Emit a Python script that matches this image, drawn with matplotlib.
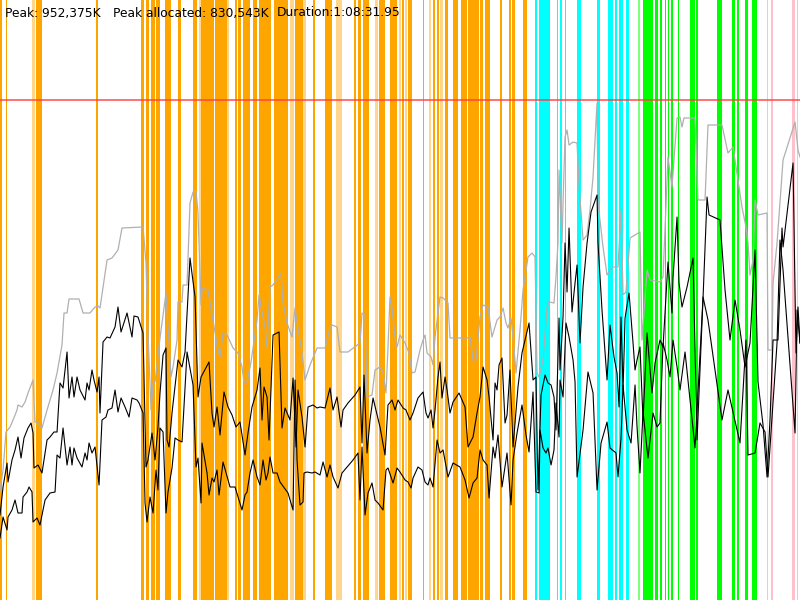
import matplotlib
matplotlib.use("Agg")
import matplotlib.pyplot as plt
import numpy as np

# ---- summary values ----
PEAK_K = 952375
PEAK_ALLOC_K = 830543
DURATION_S = 1 * 3600 + 8 * 60 + 31.95
title_parts = ["Peak: 952,375K", "Peak allocated: 830,543K", "Duration:1:08:31.95"]

# ---- series: time in % of run duration, memory in % of peak ----
gray_t = [0, 0.38, 0.75, 1.25, 1.63, 2.13, 2.25, 2.75, 3.13, 3.5, 4.13, 4.38, 4.75, 5.25, 5.88, 6.63, 7.13, 7.75, 8.0, 8.38,
          8.63, 9.88, 10.38, 11.25, 11.88, 12.25, 12.5, 13.38, 14.0, 14.75, 15.25, 17.88, 18.25, 18.5, 18.88, 19.13, 19.38, 20.0, 20.75, 21.38,
          21.63, 22.13, 22.25, 22.75, 22.88, 23.38, 23.75, 24.13, 24.5, 24.75, 25.13, 25.25, 26.0, 26.38, 26.63, 27.13, 27.5, 27.88, 28.38, 29.13,
          29.75, 30.25, 30.5, 30.88, 31.38, 32.13, 32.38, 32.75, 33.13, 33.38, 33.75, 34.13, 35.13, 35.38, 35.88, 36.5, 36.88, 37.13, 37.75, 38.13,
          38.75, 39.63, 40.63, 41.25, 41.5, 42.13, 42.5, 43.5, 45.0, 45.25, 45.63, 45.88, 46.5, 46.88, 47.5, 47.88, 48.25, 48.5, 48.75, 49.0,
          49.38, 49.63, 50.0, 50.63, 51.13, 51.5, 51.88, 52.5, 52.88, 53.13, 53.38, 53.88, 54.13, 54.38, 55.0, 55.38, 56.0, 56.25, 58.38, 58.75,
          59.13, 59.5, 60.0, 60.38, 61.0, 61.5, 62.13, 62.5, 62.88, 63.25, 63.5, 63.88, 64.13, 64.5, 65.0, 65.38, 66.0, 66.5, 66.88, 67.13,
          67.38, 67.88, 68.38, 68.63, 69.25, 69.5, 69.75, 69.88, 70.25, 70.38, 70.63, 70.88, 71.13, 71.63, 72.13, 72.38, 72.88, 73.38, 73.75, 74.13,
          74.63, 74.75, 75.38, 75.88, 76.25, 76.63, 77.25, 77.63, 77.88, 78.25, 78.75, 79.38, 80.0, 80.25, 80.88, 81.25, 82.5, 82.88, 83.5, 84.0,
          84.63, 85.0, 85.25, 85.5, 86.88, 87.25, 88.13, 88.5, 90.25, 91.0, 91.63, 92.75, 93.25, 93.5, 93.75, 94.13, 94.38, 94.75, 95.88, 96.0,
          96.5, 96.63, 97.13, 97.88, 99.38, 99.75, 100.0]
gray_m = [22.0, 26.0, 33.6, 34.6, 36.0, 38.0, 39.0, 38.6, 39.6, 41.4, 44.0, 35.6, 35.4, 34.4, 38.0, 42.0, 45.4, 51.0, 57.4, 57.4,
          60.2, 60.2, 57.4, 57.4, 58.6, 58.8, 58.4, 68.0, 68.4, 70.0, 74.4, 74.6, 67.4, 53.4, 38.0, 43.4, 43.6, 52.4, 61.4, 44.6,
          46.6, 52.0, 59.6, 59.6, 63.0, 63.0, 79.4, 81.6, 81.8, 77.4, 59.0, 62.4, 62.0, 58.0, 56.0, 51.0, 48.6, 53.4, 53.0, 50.4,
          49.4, 46.6, 43.6, 43.6, 47.6, 56.0, 61.0, 57.6, 54.6, 50.4, 62.6, 63.0, 65.4, 59.4, 55.4, 52.6, 58.4, 55.6, 49.4, 44.0,
          47.0, 50.4, 50.4, 54.4, 55.0, 54.6, 49.6, 49.6, 51.4, 57.4, 57.0, 40.6, 41.0, 46.0, 46.6, 45.6, 41.4, 50.6, 60.6, 58.4,
          52.6, 50.6, 53.0, 51.4, 49.4, 45.4, 45.6, 50.0, 52.0, 53.0, 49.4, 48.6, 47.0, 52.6, 60.6, 60.4, 59.4, 52.4, 52.4, 52.6,
          48.0, 48.0, 56.6, 59.0, 58.6, 52.6, 56.0, 56.6, 58.4, 55.4, 54.4, 56.4, 52.6, 45.4, 54.0, 62.0, 68.6, 69.4, 68.6, 45.4,
          44.6, 48.0, 58.6, 59.6, 59.4, 64.6, 71.4, 86.0, 71.4, 79.4, 92.6, 94.0, 91.0, 91.6, 91.4, 83.0, 72.0, 73.0, 78.0, 84.6,
          99.4, 79.4, 70.6, 65.0, 66.0, 66.6, 66.6, 78.0, 61.0, 61.6, 72.4, 73.0, 73.6, 52.0, 66.0, 64.0, 63.6, 64.6, 88.6, 82.6,
          96.4, 96.6, 94.6, 96.4, 96.4, 80.0, 80.0, 95.0, 95.0, 89.4, 90.6, 78.6, 74.6, 71.4, 65.0, 68.0, 80.0, 77.0, 77.4, 50.0,
          50.0, 63.4, 71.4, 88.0, 95.6, 90.0, 88.6]

upper_t = [0, 0.38, 0.88, 1.0, 1.5, 1.88, 2.25, 2.63, 3.0, 3.5, 3.88, 4.13, 4.25, 4.75, 5.25, 5.88, 6.25, 6.75, 7.13, 7.5,
           7.88, 8.38, 8.63, 9.0, 9.25, 9.63, 10.0, 10.63, 10.88, 11.13, 11.5, 11.75, 12.13, 12.38, 12.5, 12.88, 13.38, 13.75, 14.38, 14.75,
           15.13, 15.88, 16.5, 16.75, 17.25, 17.88, 18.25, 18.5, 19.0, 19.38, 19.75, 20.0, 20.38, 20.75, 20.88, 21.13, 21.5, 22.25, 22.75, 23.13,
           23.75, 24.38, 24.75, 25.13, 26.13, 26.5, 26.75, 27.13, 27.5, 28.0, 28.5, 29.0, 29.5, 30.0, 30.63, 31.0, 31.5, 32.13, 32.5, 32.75,
           33.0, 33.38, 33.63, 34.13, 34.88, 35.25, 35.63, 36.25, 36.63, 37.0, 37.25, 37.75, 38.13, 38.5, 39.13, 39.63, 40.0, 40.63, 41.25, 41.63,
           42.13, 42.63, 42.88, 43.5, 44.38, 45.0, 45.25, 45.5, 45.88, 46.25, 46.63, 47.5, 48.13, 48.5, 49.0, 49.38, 49.75, 50.38, 50.75, 51.25,
           51.63, 52.25, 52.88, 53.25, 53.5, 53.88, 54.13, 54.38, 54.75, 55.0, 55.25, 55.63, 55.88, 56.25, 56.63, 57.38, 58.13, 58.5, 59.13, 59.63,
           60.0, 60.38, 60.88, 61.13, 61.63, 61.88, 62.13, 62.38, 62.75, 63.13, 63.38, 63.75, 64.13, 64.75, 65.25, 65.63, 66.13, 66.63, 67.0, 67.25,
           67.63, 68.13, 68.5, 68.88, 69.25, 69.5, 69.88, 70.0, 70.38, 70.63, 70.88, 71.13, 71.5, 71.88, 72.13, 72.5, 72.88, 73.38, 73.88, 74.63,
           74.75, 75.25, 75.88, 76.25, 76.75, 77.13, 77.38, 77.63, 77.88, 78.13, 78.63, 79.13, 79.38, 79.63, 80.0, 80.38, 80.88, 81.5, 81.88, 82.5,
           82.88, 83.5, 84.0, 84.13, 84.63, 84.88, 85.25, 85.88, 86.63, 87.13, 87.88, 88.38, 88.63, 90.0, 90.63, 91.25, 91.88, 92.5, 93.13, 93.75,
           94.38, 94.75, 95.38, 95.88, 96.25, 96.63, 97.25, 97.75, 97.88, 99.13, 99.5, 99.75, 100.0]
upper_m = [17.0, 22.6, 27.4, 23.6, 28.0, 30.0, 32.6, 28.4, 32.4, 34.4, 35.4, 33.4, 26.4, 27.0, 25.4, 32.0, 32.6, 33.6, 33.6, 43.4,
           42.4, 49.6, 40.4, 44.6, 40.6, 44.6, 42.0, 40.0, 43.4, 42.0, 46.0, 44.0, 41.6, 44.6, 37.4, 51.6, 52.6, 52.4, 54.6, 58.6,
           53.6, 57.4, 52.6, 56.8, 56.6, 53.4, 26.6, 28.0, 33.4, 28.0, 34.6, 41.4, 49.0, 50.4, 32.0, 30.6, 37.4, 48.0, 46.6, 49.6,
           68.4, 60.6, 40.6, 44.6, 47.6, 37.4, 34.6, 38.6, 33.0, 41.6, 38.6, 37.0, 34.6, 35.6, 29.0, 33.4, 38.6, 42.0, 46.4, 36.0,
           42.6, 40.6, 32.0, 53.0, 53.6, 34.4, 38.4, 36.0, 44.4, 30.6, 42.0, 36.6, 30.6, 38.6, 39.0, 38.4, 38.6, 38.4, 42.4, 38.0,
           40.6, 34.6, 38.0, 39.4, 41.0, 42.6, 31.4, 45.0, 29.4, 36.0, 40.4, 34.6, 29.0, 39.0, 40.0, 38.0, 40.0, 38.4, 38.0, 36.0,
           37.4, 40.4, 41.6, 37.4, 36.4, 38.0, 34.4, 38.0, 44.6, 47.6, 40.4, 44.6, 42.0, 37.4, 39.6, 41.4, 38.6, 30.6, 32.6, 37.4,
           40.6, 46.6, 44.0, 40.6, 32.0, 43.4, 42.0, 47.0, 48.4, 35.4, 37.0, 46.0, 30.6, 42.6, 49.4, 52.0, 55.4, 44.0, 44.6, 22.0,
           41.0, 45.0, 43.4, 43.0, 40.6, 34.0, 56.4, 46.0, 56.6, 71.4, 61.6, 74.4, 57.6, 63.4, 67.0, 51.4, 62.6, 71.4, 77.6, 81.0,
           71.4, 58.0, 44.0, 55.0, 48.6, 45.4, 38.6, 56.6, 42.0, 56.4, 61.4, 51.4, 46.0, 48.0, 50.6, 36.0, 53.4, 41.4, 47.4, 52.0,
           50.6, 67.6, 57.4, 64.6, 76.6, 63.4, 58.6, 62.6, 68.4, 32.0, 60.4, 80.6, 77.0, 76.0, 62.0, 52.0, 60.0, 54.0, 46.6, 51.4,
           70.0, 43.6, 35.0, 24.6, 36.0, 52.0, 52.0, 74.4, 70.6, 87.4, 49.4, 58.6, 51.4]

lower_t = [0, 0.38, 0.88, 1.0, 1.5, 1.88, 2.25, 2.75, 2.88, 3.38, 3.63, 4.0, 4.13, 4.63, 5.0, 5.63, 6.25, 6.88, 7.13, 7.5,
           7.88, 8.38, 8.75, 9.0, 9.25, 9.63, 10.25, 10.63, 10.88, 11.13, 11.5, 11.88, 12.38, 12.75, 13.25, 13.5, 14.0, 14.38, 14.75, 15.13,
           15.63, 16.13, 16.5, 17.13, 17.38, 17.88, 18.13, 18.38, 18.75, 19.13, 19.5, 19.75, 20.0, 20.38, 20.75, 21.0, 21.5, 21.88, 22.25, 22.75,
           23.38, 24.13, 24.5, 24.75, 25.13, 25.25, 25.88, 26.13, 26.5, 26.75, 27.13, 27.38, 27.88, 28.75, 29.38, 30.25, 30.63, 30.88, 31.25, 31.63,
           32.13, 32.5, 32.88, 33.25, 33.5, 33.75, 34.13, 34.63, 35.0, 36.0, 36.63, 36.88, 37.13, 37.5, 37.88, 38.0, 38.38, 39.0, 39.38, 40.0,
           40.38, 40.88, 41.25, 41.63, 42.25, 42.75, 44.13, 44.75, 45.0, 45.25, 45.63, 46.0, 46.5, 46.88, 47.25, 47.88, 48.25, 48.5, 49.13, 49.63,
           50.0, 50.63, 51.0, 51.38, 51.63, 52.25, 52.75, 53.13, 53.5, 53.75, 54.13, 54.63, 55.0, 55.38, 56.0, 56.63, 57.5, 58.13, 58.63, 59.13,
           59.63, 60.0, 60.38, 60.88, 61.13, 61.63, 61.88, 62.25, 62.75, 63.38, 63.88, 64.13, 64.63, 65.25, 65.75, 66.13, 66.63, 67.0, 67.38, 67.5,
           67.88, 68.25, 68.5, 68.88, 69.25, 69.5, 69.88, 70.0, 70.38, 70.75, 71.13, 71.63, 71.88, 72.13, 72.88, 73.5, 74.13, 74.63, 75.13, 75.88,
           76.25, 77.0, 77.25, 77.63, 77.88, 78.38, 78.88, 79.38, 79.63, 80.0, 80.38, 81.0, 81.63, 82.13, 82.5, 82.88, 83.38, 83.75, 84.13, 84.63,
           85.0, 85.63, 86.88, 87.88, 88.5, 90.25, 91.0, 92.5, 93.25, 93.5, 94.38, 95.0, 95.63, 96.0, 96.5, 97.13, 97.5, 97.88, 99.38, 99.63,
           100.0]
lower_m = [12.4, 16.6, 14.0, 16.6, 18.0, 20.0, 17.4, 17.4, 20.6, 21.6, 22.6, 21.6, 15.6, 16.4, 15.0, 20.0, 21.4, 21.6, 29.0, 28.4,
           34.4, 27.0, 30.6, 27.0, 30.4, 28.4, 26.6, 29.4, 28.0, 31.4, 29.4, 30.6, 23.0, 36.0, 36.6, 38.0, 38.4, 42.0, 37.6, 40.4,
           38.6, 36.6, 40.4, 40.0, 39.4, 37.4, 19.4, 15.6, 20.6, 17.4, 26.0, 22.0, 34.4, 33.6, 17.4, 21.6, 26.4, 32.4, 32.0, 31.6,
           49.6, 43.0, 26.6, 28.4, 19.4, 31.4, 25.4, 21.0, 24.4, 23.6, 26.0, 21.0, 27.6, 22.6, 22.6, 18.0, 21.0, 21.6, 25.4, 28.0,
           24.6, 23.0, 28.0, 24.0, 25.4, 28.6, 25.4, 25.4, 23.6, 21.4, 18.0, 44.0, 28.0, 19.0, 19.6, 25.4, 25.6, 25.4, 25.6, 25.0,
           27.6, 24.6, 27.0, 24.6, 22.4, 25.4, 28.0, 29.4, 20.0, 30.6, 17.0, 21.4, 23.4, 20.0, 19.4, 18.0, 26.0, 26.4, 23.4, 26.4,
           25.6, 24.0, 23.6, 22.4, 24.4, 26.6, 26.0, 23.6, 23.0, 24.4, 22.6, 32.0, 29.4, 30.0, 24.6, 27.4, 26.6, 24.0, 20.4, 23.4,
           24.4, 30.0, 28.0, 27.0, 20.4, 30.6, 28.4, 33.0, 22.6, 29.4, 19.0, 28.0, 33.4, 39.0, 33.0, 29.6, 41.6, 21.6, 21.4, 34.0,
           30.4, 29.4, 30.4, 27.0, 30.0, 39.4, 32.6, 44.0, 40.6, 55.4, 52.6, 48.0, 43.6, 24.6, 34.0, 45.6, 41.4, 22.0, 31.4, 35.6,
           30.4, 29.4, 24.6, 32.4, 43.0, 34.0, 31.4, 43.0, 34.6, 25.4, 37.6, 28.4, 37.4, 34.6, 35.4, 51.4, 48.0, 44.6, 52.0, 46.6,
           42.0, 49.6, 30.4, 60.6, 56.0, 36.0, 42.0, 31.4, 52.0, 29.0, 29.4, 35.4, 33.6, 24.6, 36.4, 51.4, 72.0, 66.0, 33.4, 58.0,
           51.4]

# ---- event bands: (start %, end %) of run duration ----
orange_bands = [(0, 0.25), (0.75, 0.88), (4.5, 5.25), (12.0, 12.25), (17.63, 18.0), (18.21, 18.63), (18.88, 19.38),
                (19.5, 20.0), (20.63, 21.34), (22.25, 22.59), (24.13, 24.59), (25.13, 26.75), (26.88, 28.38),
                (29.38, 29.63), (29.75, 30.13), (30.38, 31.25), (31.63, 32.13), (32.38, 33.88), (34.25, 36.0),
                (36.88, 37.88), (39.13, 39.38), (40.63, 41.5), (44.25, 44.5), (44.75, 45.13), (45.38, 46.13),
                (47.38, 48.13), (48.75, 49.63), (50.25, 50.5), (51.0, 51.5), (52.88, 53.0), (54.13, 54.38),
                (54.63, 54.88), (55.63, 56.0), (56.63, 57.25), (57.63, 58.38), (58.5, 59.88), (60.0, 60.38),
                (60.63, 61.25), (62.5, 62.75), (63.63, 63.88), (64.0, 64.38), (65.38, 65.88)]
light_orange_bands = [(4.0, 4.38), (24.88, 25.13), (28.38, 28.63), (36.25, 36.75), (37.88, 38.25), (42.0, 42.75),
                      (46.88, 47.25), (49.88, 50.13), (50.63, 50.88), (53.63, 53.88), (55.0, 55.38)]
cyan_bands = [(66.88, 67.13), (67.38, 68.75), (69.63, 69.75), (70.0, 70.25), (70.63, 70.75), (72.13, 72.63),
              (74.63, 75.0), (76.0, 76.63), (76.88, 77.13), (77.38, 77.88), (78.25, 78.63)]
green_bands = [(80.38, 81.63), (81.88, 82.25), (82.5, 82.75), (83.13, 83.25), (83.5, 83.63), (83.88, 84.13),
               (84.75, 84.88), (86.25, 86.88), (87.0, 87.25), (89.63, 90.25), (91.5, 91.88), (92.13, 92.38),
               (93.13, 93.5), (94.0, 94.63)]
light_green_bands = [(79.81, 80.0)]
pink_bands = [(95.88, 96.0), (96.38, 96.63), (99.0, 99.38), (99.63, 99.75)]


def to_s(p):
    return np.asarray(p, dtype=float) / 100.0 * DURATION_S


def to_k(p):
    return np.asarray(p, dtype=float) / 100.0 * PEAK_K


fig = plt.figure(figsize=(8, 6), dpi=100)
ax = fig.add_axes([0, 0, 1, 1])
ax.set_xlim(0, DURATION_S)
ax.set_ylim(0, 1.2 * PEAK_K)
ax.axis("off")

for bands, col, a in [(orange_bands, "#ffa500", 1.0), (light_orange_bands, "#ffa500", 0.45),
                      (cyan_bands, "#00ffff", 1.0), (green_bands, "#00ff00", 1.0),
                      (light_green_bands, "#00ff00", 0.5), (pink_bands, "#ffc0cb", 1.0)]:
    for s, e in bands:
        ax.axvspan(to_s(s), to_s(e), color=col, alpha=a, lw=0, zorder=1)

ax.axhline(PEAK_K, color="#ff4040", alpha=0.8, lw=1.3, zorder=2)
ax.plot(to_s(gray_t), to_k(gray_m), color="#b0b0b0", lw=0.9, zorder=3)
ax.plot(to_s(upper_t), to_k(upper_m), color="black", lw=0.8, zorder=4)
ax.plot(to_s(lower_t), to_k(lower_m), color="black", lw=0.8, zorder=4)

for xp, txt in zip([5, 113, 277], title_parts):
    fig.text(xp / 800, 1 - 13 / 600, txt, fontsize=8.8, color="black", va="center", ha="left",
             family="DejaVu Sans", zorder=10)

fig.savefig("out.png", dpi=100)
